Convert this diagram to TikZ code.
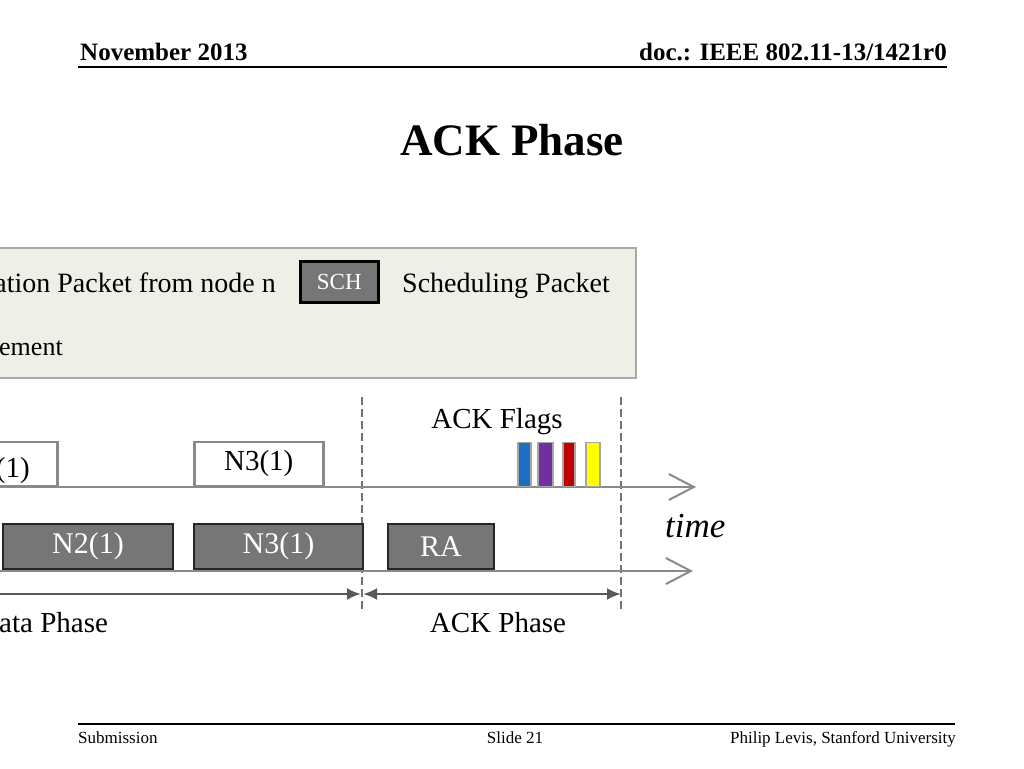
\documentclass[tikz,border=0pt]{standalone}
\usepackage{fontspec}
\setmainfont{Liberation Serif}
\usetikzlibrary{arrows.meta}
\definecolor{boxgray}{HTML}{767676}
\definecolor{legfill}{HTML}{EEF0E7}
\definecolor{legdraw}{HTML}{A9A9A9}
\definecolor{axisgray}{HTML}{8A8A8A}
\definecolor{flagblue}{HTML}{1F6FC0}
\definecolor{flagpurple}{HTML}{7030A0}
\definecolor{flagred}{HTML}{C00000}
\definecolor{flagyellow}{HTML}{FFFF00}
\begin{document}
\begin{tikzpicture}[x=1pt,y=-1pt,
  hdr/.style={font=\fontsize{25}{25}\selectfont\bfseries, inner sep=0},
  ttl/.style={font=\fontsize{45}{45}\selectfont\bfseries, inner sep=0},
  ftr/.style={font=\fontsize{17}{17}\selectfont, inner sep=0},
  leg/.style={font=\fontsize{28}{28}\selectfont, inner sep=0},
  lbl/.style={font=\fontsize{29}{29}\selectfont, inner sep=0},
  whitebox/.style={draw=axisgray, fill=white, line width=2.5pt, minimum height=44pt, anchor=south west, inner sep=0, font=\fontsize{29}{29}\selectfont},
  graybox/.style={draw=black!85, fill=boxgray, line width=2pt, minimum height=45pt, anchor=south west, inner sep=0, text=white, font=\fontsize{30}{30}\selectfont},
  flag/.style={draw=gray!70, line width=1.5pt, minimum width=13pt, minimum height=44pt, anchor=south west, inner sep=0},
  axis/.style={draw=axisgray, line width=2.5pt, -{Straight Barb[length=25pt,width=26pt,line width=2pt]}},
  vdash/.style={draw=gray!90!black, line width=2.2pt, dash pattern=on 8pt off 4pt},
  phase/.style={draw=gray!70!black, line width=2.5pt, >={Latex[length=14pt,width=12pt]}}
]
\clip (0,0) rectangle (1024,768);
\fill[white] (0,0) rectangle (1024,768);

% header
\node[hdr, anchor=base west] (date) at (80,60) {November 2013};
\node[hdr, anchor=base east] (doc) at (947,60) {doc.: IEEE 802.11-13/1421r0};
\coordinate (hl0) at (78,67);
\coordinate (hl1) at (947,67);
\draw[line width=1.8pt] (hl0) -- (hl1);

% title
\node[ttl, anchor=base] (title) at (512,155) {ACK Phase};

% legend box
\node[draw=legdraw, fill=legfill, line width=2pt, anchor=north east, minimum width=660pt, minimum height=130pt, inner sep=0] (legend) at (637,247) {};
\node[leg, anchor=base east] (legA) at (276,292) {ation Packet from node n};
\node[draw=black, fill=boxgray, line width=2.5pt, minimum width=78pt, minimum height=41pt, inner sep=0, text=white, font=\fontsize{23}{23}\selectfont, anchor=north west] (sch) at (299,260) {SCH};
\node[leg, anchor=base west] (legB) at (402,292) {Scheduling Packet};
\node[leg, font=\fontsize{26}{26}\selectfont, anchor=base west] (legC) at (-1,355) {ement};

% dashed phase separators
\coordinate (v1a) at (362,397);
\coordinate (v1b) at (362,612);
\coordinate (v2a) at (621,397);
\coordinate (v2b) at (621,612);
\draw[vdash] (v1a) -- (v1b);
\draw[vdash] (v2a) -- (v2b);

% top timeline
\coordinate (ta) at (-5,487);
\coordinate (tb) at (696,487);
\draw[axis] (ta) -- (tb);
\node[whitebox, minimum width=129pt] (w1) at (-73,487) {};
\node[lbl, anchor=base east] (w1t) at (30,477) {(1)};
\node[whitebox, minimum width=129pt] (w2) at (193,487) {N3(1)};

\node[lbl, anchor=base] (flagsl) at (497,428) {ACK Flags};
\node[flag, fill=flagblue] (f1) at (517,487) {};
\node[flag, fill=flagpurple, minimum width=15pt] (f2) at (537,487) {};
\node[flag, fill=flagred, minimum width=12pt] (f3) at (562,487) {};
\node[flag, fill=flagyellow, minimum width=14pt] (f4) at (585,487) {};

% bottom timeline
\coordinate (ba) at (-5,571);
\coordinate (bb) at (693,571);
\draw[axis] (ba) -- (bb);
\node[graybox, minimum width=170pt] (g1) at (2,570) {N2(1)};
\node[graybox, minimum width=169pt] (g2) at (193,570) {N3(1)};
\node[graybox, minimum width=106pt] (g3) at (387,570) {RA};

\node[font=\fontsize{35}{35}\selectfont\itshape, inner sep=0, anchor=base west] (time) at (665,537) {time};

% phase arrows
\coordinate (da) at (-5,594);
\coordinate (db) at (361,594);
\coordinate (aa) at (363,594);
\coordinate (ab) at (621,594);
\draw[phase, ->] (da) -- (db);
\draw[phase, <->] (aa) -- (ab);
\node[lbl, anchor=base west] (dphase) at (-1,632) {ata Phase};
\node[lbl, anchor=base] (aphase) at (498,632) {ACK Phase};

% footer
\coordinate (fl0) at (78,724);
\coordinate (fl1) at (955,724);
\draw[line width=1.5pt] (fl0) -- (fl1);
\node[ftr, anchor=base west] (sub) at (78,743) {Submission};
\node[ftr, anchor=base] (slide) at (515,743) {Slide 21};
\node[ftr, anchor=base east] (auth) at (956,743) {Philip Levis, Stanford University};
\end{tikzpicture}
\end{document}
